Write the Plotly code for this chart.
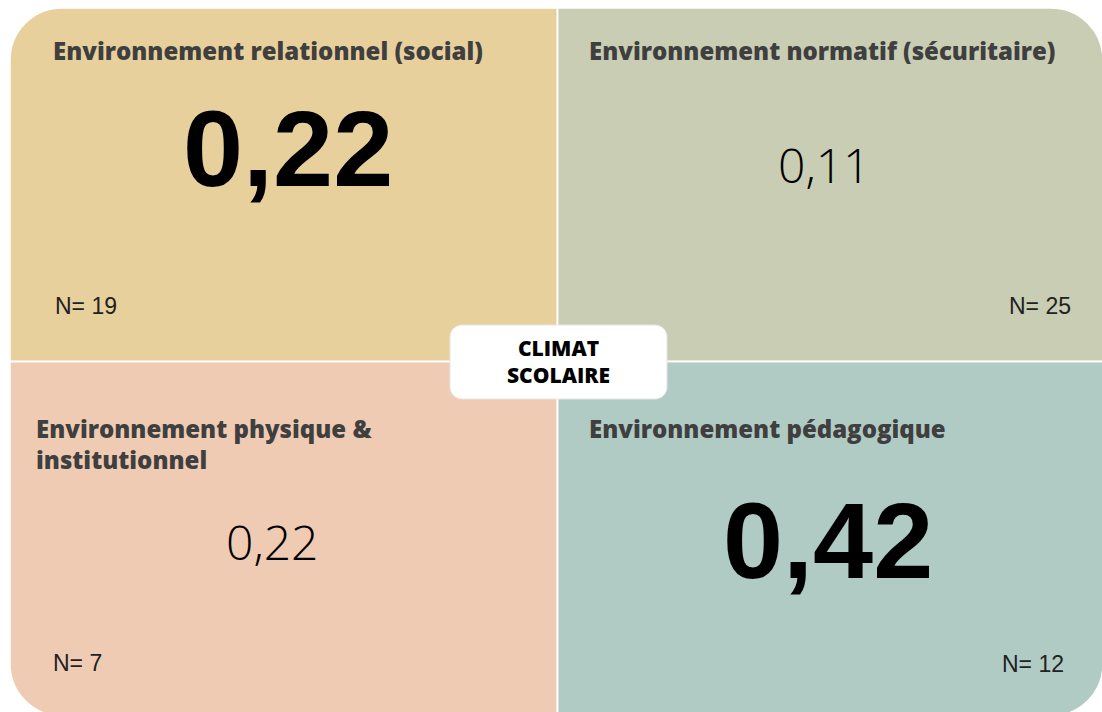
import plotly.graph_objects as go

# ---- data ----
titles = [
    "Environnement relationnel (social)",
    "Environnement normatif (sécuritaire)",
    "Environnement physique &<br>institutionnel",
    "Environnement pédagogique",
]
values = ["0,22", "0,11", "0,22", "0,42"]
emphasis = [True, False, False, True]
n_labels = ["N= 19", "N= 25", "N= 7", "N= 12"]
colors = ["#E8D09D", "#C9CDB3", "#F0CBB3", "#B0CBC4"]
center_label = "CLIMAT<br>SCOLAIRE"

W, H = 1102, 712
L, R, T, B = 10, 1103, 8, 716
MX, MY = 557.5, 361.5
RAD = 52
K = 0.5523 * RAD

fig = go.Figure()
fig.update_layout(
    width=W, height=H, margin=dict(l=0, r=0, t=0, b=0),
    paper_bgcolor="white", plot_bgcolor="white", showlegend=False,
    xaxis=dict(range=[0, W], visible=False, fixedrange=True),
    yaxis=dict(range=[H, 0], visible=False, fixedrange=True),
)
fig.add_trace(go.Scatter(x=[0, W], y=[0, H], mode="markers", marker=dict(opacity=0), hoverinfo="skip"))

def path_tl():
    return (f"M {L},{MY} L {L},{T+RAD} C {L},{T+RAD-K} {L+RAD-K},{T} {L+RAD},{T} "
            f"L {MX},{T} L {MX},{MY} Z")

def path_tr():
    return (f"M {MX},{T} L {R-RAD},{T} C {R-RAD+K},{T} {R},{T+RAD-K} {R},{T+RAD} "
            f"L {R},{MY} L {MX},{MY} Z")

def path_bl():
    return (f"M {L},{MY} L {MX},{MY} L {MX},{B} L {L+RAD},{B} "
            f"C {L+RAD-K},{B} {L},{B-RAD+K} {L},{B-RAD} Z")

def path_br():
    return (f"M {MX},{MY} L {R},{MY} L {R},{B-RAD} C {R},{B-RAD+K} {R-RAD+K},{B} {R-RAD},{B} "
            f"L {MX},{B} Z")

paths = [path_tl(), path_tr(), path_bl(), path_br()]
for p, c in zip(paths, colors):
    fig.add_shape(type="path", path=p, xref="x", yref="y", fillcolor=c,
                  line=dict(color="white", width=1.5), layer="below")

fig.add_shape(type="line", x0=MX, x1=MX, y0=T, y1=B, xref="x", yref="y",
              line=dict(color="white", width=1.5))
fig.add_shape(type="line", x0=L, x1=R, y0=MY, y1=MY, xref="x", yref="y",
              line=dict(color="white", width=1.5))

title_pos = [(51, 50), (587, 50), (34, 444), (587, 428)]
value_pos = [(288, 148), (824, 164), (272, 541), (828, 540)]
n_pos = [(53, 306, "left"), (1073, 306, "right"), (51, 663, "left"), (1066, 664, "right")]

title_font = dict(family="'Open Sans', sans-serif", size=24, color="#3f3f3f", weight=800)

for i in range(4):
    tx, ty = title_pos[i]
    fig.add_annotation(x=tx, y=ty, text=titles[i], showarrow=False, xanchor="left", yanchor="middle",
                       align="left", font=title_font, xref="x", yref="y")
    vx, vy = value_pos[i]
    if emphasis[i]:
        vf = dict(family="'Liberation Sans', Arial, sans-serif", size=108, color="black", weight=900)
    else:
        vf = dict(family="'Open Sans', sans-serif", size=48, color="black", weight=300)
    fig.add_annotation(x=vx, y=vy, text=values[i], showarrow=False, xanchor="center",
                       yanchor="middle", font=vf, xref="x", yref="y")
    nx, ny, na = n_pos[i]
    fig.add_annotation(x=nx, y=ny, text=n_labels[i], showarrow=False, xanchor=na,
                       yanchor="middle", font=dict(family="'Liberation Sans', Arial, sans-serif",
                                                   size=23, color="#222222"),
                       xref="x", yref="y")

bx0, bx1, by0, by1, br = 450, 667, 325, 399, 12
kb = 0.5523 * br
box = (f"M {bx0+br},{by0} L {bx1-br},{by0} C {bx1-br+kb},{by0} {bx1},{by0+br-kb} {bx1},{by0+br} "
       f"L {bx1},{by1-br} C {bx1},{by1-br+kb} {bx1-br+kb},{by1} {bx1-br},{by1} "
       f"L {bx0+br},{by1} C {bx0+br-kb},{by1} {bx0},{by1-br+kb} {bx0},{by1-br} "
       f"L {bx0},{by0+br} C {bx0},{by0+br-kb} {bx0+br-kb},{by0} {bx0+br},{by0} Z")
fig.add_shape(type="path", path=box, xref="x", yref="y", fillcolor="white",
              line=dict(color="#e6e6e6", width=1))
fig.add_annotation(x=558, y=361, text=center_label, showarrow=False, xanchor="center",
                   yanchor="middle", font=dict(family="'Open Sans', sans-serif", size=21,
                                               color="black", weight=800),
                   xref="x", yref="y")

fig.write_html("out.html", config={"displayModeBar": False},
               post_script="document.body.style.margin='0px';document.body.style.overflow='hidden';")
